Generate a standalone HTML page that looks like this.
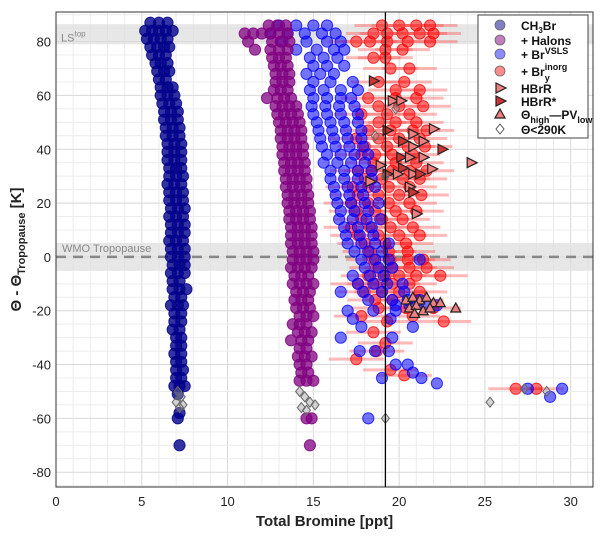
<!DOCTYPE html>
<html><head><meta charset="utf-8"><style>
body{margin:0;background:#fff;}
svg text{font-family:"Liberation Sans",Arial,sans-serif;}
</style></head><body>
<svg id="chart" width="600" height="535" viewBox="0 0 600 535" xmlns="http://www.w3.org/2000/svg">
<rect x="0" y="0" width="600" height="535" fill="#fff"/>
<g id="grid"></g>
<g id="bands"></g>
<g id="marks"></g>
<g id="axes"></g>
<g id="legend"></g>
</svg>
<script>
const xTicks=[0,5,10,15,20,25,30];
const yTicks=[80,60,40,20,0,-20,-40,-60,-80];
const ch3brRows=[[87,[5.5,6.0,6.5]],[84,[5.2,5.6,6.0,6.4,6.8]],[81,[5.3,5.7,6.1,6.5]],[78,[5.5,5.9,6.3,6.6]],[75,[5.6,6.0,6.4]],[72,[5.8,6.1,6.5]],[69,[5.9,6.3,6.6]],[66,[6.0,6.4]],[63,[6.1,6.5,6.8]],[60,[6.1,6.5,6.9]],[57,[6.2,6.6,7.0]],[54,[6.3,6.7,7.1]],[51,[6.3,6.7,7.1]],[48,[6.4,6.8,7.2]],[45,[6.4,6.8,7.2]],[42,[6.5,6.9,7.3]],[39,[6.5,6.9,7.3]],[36,[6.5,6.9,7.3]],[33,[6.6,7.0,7.3]],[30,[6.6,7.0,7.4]],[27,[6.5,6.9,7.3]],[24,[6.6,7.0,7.4]],[21,[6.6,7.0,7.4]],[18,[6.7,7.1,7.5]],[15,[6.6,7.0,7.4]],[12,[6.7,7.1,7.5]],[9,[6.7,7.1,7.5]],[6,[6.6,7.0,7.4]],[3,[6.7,7.1,7.5]],[0,[6.7,7.1,7.5]],[-3,[6.8,7.2,7.5]],[-6,[6.7,7.1,7.5]],[-9,[6.8,7.2]],[-12,[6.8,7.2,7.6]],[-15,[6.9,7.3]],[-18,[6.7,7.1,7.4]],[-21,[6.9,7.3]],[-24,[6.9,7.3]],[-27,[6.8,7.2]],[-30,[7.0,7.3]],[-33,[7.0,7.3]],[-36,[6.9,7.3]],[-39,[7.0,7.3]],[-42,[7.0,7.4]],[-45,[7.0,7.3]],[-48,[6.9,7.2,7.5]],[-51,[7.1]],[-58,[7.2]],[-60,[7.1]],[-70,[7.2]]];
const halonRows=[[86,[12.4,12.9,13.4]],[83,[11.0,11.5,12.0,12.5,13.0,13.5]],[80,[11.2,12.6,13.1,13.6]],[77,[11.6,12.5,13.0,13.5]],[74,[12.6,13.0,13.4]],[71,[12.7,13.1,13.5]],[68,[12.8,13.2,13.6]],[65,[12.8,13.2,13.6]],[62,[12.7,13.1,13.5]],[59,[12.3,12.9,13.3,13.7]],[56,[12.8,13.2,13.6,14.0]],[53,[12.9,13.3,13.7,14.1]],[50,[13.0,13.4,13.8,14.2]],[47,[13.1,13.5,13.9,14.3]],[44,[13.1,13.5,13.9,14.3]],[41,[13.2,13.6,14.0,14.4]],[38,[13.2,13.6,14.0,14.4]],[35,[13.3,13.7,14.1,14.5]],[32,[13.3,13.7,14.1,14.5]],[29,[13.4,13.8,14.2,14.6]],[26,[13.4,13.8,14.2,14.6]],[23,[13.5,13.9,14.3,14.7]],[20,[13.5,13.9,14.3,14.7]],[17,[13.6,14.0,14.4,14.8]],[14,[13.6,14.0,14.4,14.8]],[11,[13.7,14.1,14.5,14.9]],[8,[13.7,14.1,14.5,14.9]],[5,[13.7,14.1,14.5,14.9]],[2,[13.8,14.2,14.6,15.0]],[-1,[13.8,14.2,14.6,15.0]],[-4,[13.7,14.1,14.5,14.9]],[-7,[13.9,14.3,14.7]],[-10,[13.8,14.2,14.6,15.0]],[-13,[14.0,14.4,14.8]],[-16,[13.9,14.3,14.7]],[-19,[14.0,14.4,14.8]],[-22,[14.2,14.6,15.0]],[-25,[13.8,14.2,14.6]],[-28,[14.1,14.5,14.9]],[-31,[13.7,14.3,14.7]],[-34,[14.2,14.6]],[-37,[14.1,14.5,14.9]],[-40,[14.2,14.6]],[-43,[14.3,14.7]],[-46,[14.2,14.6,15.0]],[-60,[14.6,14.9]],[-70,[14.8]]];
const vslsRows=[[86,[13.0,14.0,15.0,15.8]],[83,[12.5,13.5,14.5,15.5,16.3]],[80,[13.2,14.6,15.8,16.6]],[77,[14.0,15.2,16.2,16.8]],[74,[14.8,15.6,16.4]],[71,[15.0,15.8,16.8]],[68,[14.6,15.4,16.2]],[65,[15.0,16.0,17.3]],[62,[14.8,15.6,16.6,17.6]],[59,[15.0,15.8,16.6,17.2]],[56,[14.9,15.7,16.5,17.4]],[53,[15.0,15.8,16.6,17.6]],[50,[15.2,16.0,16.8,17.6]],[47,[15.3,16.1,16.9,17.8]],[44,[15.4,16.2,17.0,17.8]],[41,[15.5,16.3,17.1,17.9]],[38,[15.8,16.6,17.4,18.2]],[35,[15.6,16.4,17.2,18.0]],[32,[16.0,16.8,17.6,18.4]],[29,[16.0,16.8,17.6,18.4]],[26,[16.2,17.0,17.8,18.6]],[23,[16.3,17.1,17.9]],[20,[16.4,17.2,18.0,18.8]],[17,[16.6,17.4,18.2]],[14,[16.5,17.3,18.1,18.9]],[11,[16.8,17.6,18.4]],[8,[16.9,17.7,18.5]],[5,[17.0,17.8,18.6,19.4]],[2,[17.4,18.2,19.0]],[-1,[17.8,18.6,19.4,21.2]],[-4,[18.0,18.8,19.6]],[-7,[17.3,18.3,19.1]],[-10,[17.6,18.5,19.3,20.2]],[-13,[16.6,17.9,19.0,20.3]],[-16,[18.2,19.6,20.5,21.2]],[-18,[19.8,20.6,21.6,22.2]],[-20,[17.0,18.5,19.8]],[-23,[17.3,19.5]],[-26,[17.8,20.8]],[-30,[16.6,19.6]],[-35,[17.7,18.6,19.4]],[-40,[19.8,20.5]],[-43,[20.8]],[-45,[19.0,21.3]],[-47,[22.2]],[-60,[18.2]],[-49,[27.5,29.5]],[-52,[28.8]]];
const inorgRows=[[86,[19.0,20.0,21.0,21.8]],[83,[18.5,19.3,20.2,21.2,22.0]],[80,[17.5,18.3,19.3,20.5,21.8]],[77,[19.2,20.2]],[74,[18.5,19.2]],[70,[19.5,20.6]],[65,[18.8,20.3]],[62,[19.8,21.2]],[59,[18.2,19.8,21.0]],[56,[18.8,20.0,21.4]],[53,[17.8,19.3,20.6]],[50,[18.8,19.8,21.0]],[47,[18.2,19.5,20.8,21.6]],[44,[17.5,18.8,20.0,21.2]],[41,[18.0,19.3,20.5,21.5]],[38,[17.8,18.6,19.6,20.8]],[35,[18.5,19.8,21.0]],[32,[17.6,18.4,19.6,20.6,21.6]],[29,[18.0,19.0,20.2,21.2]],[26,[17.3,18.2,19.4,20.6]],[23,[17.6,18.8,20.0,21.3]],[20,[17.2,18.2,19.4,20.6]],[17,[17.5,18.6,19.8,21.0]],[14,[17.8,19.0,20.2]],[11,[17.2,18.3,19.5,20.8]],[8,[17.6,18.8,20.0,21.2]],[5,[18.0,19.2,20.4]],[2,[18.3,19.4,20.5]],[-1,[18.5,19.5,20.5,21.4]],[-4,[18.7,19.6,20.6,21.6]],[-7,[18.2,19.2,20.0,21.0,22.4]],[-10,[17.6,18.6,19.6,20.6]],[-13,[18.0,19.0,20.0,21.2]],[-16,[18.6,19.6,21.0]],[-19,[18.8,20.4,22.0]],[-22,[17.8,20.8]],[-24,[19.3,22.6]],[-28,[18.5]],[-32,[19.2]],[-35,[18.7]],[-38,[17.5]],[-42,[19.5]],[-44,[20.3]],[-49,[26.8,28.0]]];
const hbrrX=[18.5,19.6,20.1,19.3,20.8,22.0,20.2,21.4,20.8,20.1,20.6,21.4,20.2,21.9,18.9,19.3,19.9,20.8,21.2,18.3,20.6,20.8,21.0,24.2,22.5];
const hbrrY=[65.4,58,58,47,45.7,47.6,43,43,41,37,37,37,33,32.7,34,30.8,30.8,30.8,30.8,28,26,24,16,35,40];
const pvX=[20.4,20.8,21.2,21.6,22.0,20.6,21.0,21.4,21.8,23.3,22.4,20.9];
const pvY=[-16,-15,-16,-15,-17,-19,-18,-20,-19,-19,-17,-21];
const dX=[7.1,7.3,7.0,7.4,7.2,14.2,14.5,14.8,14.3,15.1,14.6,19.2,25.3,27.3,28.6,18.6,19.2,19.8];
const dY=[-50,-52,-54,-55,-56,-50,-52,-54,-56,-55,-57,-60,-54,-49,-50,45,30,55];

const NS='http://www.w3.org/2000/svg';
const X0=56,X1=593,Y0=487,Y1=12,XMIN=0,XMAX=31.3,YMIN=-85.5,YMAX=91;
function sx(v){return X0+(v-XMIN)/(XMAX-XMIN)*(X1-X0);}
function sy(v){return Y0-(v-YMIN)/(YMAX-YMIN)*(Y0-Y1);}
function mk(tag,attrs,parent){const e=document.createElementNS(NS,tag);for(const k in attrs)e.setAttribute(k,attrs[k]);parent.appendChild(e);return e;}
const grid=document.getElementById('grid'),bands=document.getElementById('bands'),marks=document.getElementById('marks'),axes=document.getElementById('axes'),legend=document.getElementById('legend');

for(let v=1;v<=31;v++){const l=mk('line',{x1:sx(v),x2:sx(v),y1:Y1,y2:Y0,stroke:v%5===0?'#d8d8d8':'#ececec','stroke-width':1},grid);

}
for(let v=-85;v<=90;v+=5){const l=mk('line',{x1:X0,x2:X1,y1:sy(v),y2:sy(v),stroke:v%20===0?'#d8d8d8':'#ececec','stroke-width':1},grid);

}

let b=mk('rect',{x:X0,y:sy(86.5),width:X1-X0,height:sy(79)-sy(86.5),fill:'#ddd','fill-opacity':0.7},bands);


b=mk('rect',{x:X0,y:sy(5),width:X1-X0,height:sy(-5)-sy(5),fill:'#ddd','fill-opacity':0.7},bands);


let t=mk('text',{x:61,y:sy(81.5)+4,'font-size':11,fill:'#888'},bands);t.textContent='LS';


let ts=mk('tspan',{'font-size':8,dy:-5},t);ts.textContent='top';
t=mk('text',{x:62,y:sy(0)-5,'font-size':11,fill:'#888'},bands);t.textContent='WMO Tropopause';


let dl=mk('line',{x1:X0,x2:X1,y1:sy(0),y2:sy(0),stroke:'#888','stroke-width':2.5,'stroke-dasharray':'10,7'},bands);



function circles(rows,stroke,fill,name,err){
  const g=mk('g',{},marks);
  
  
  rows.forEach(r=>r[1].forEach(x=>{
    if(err){const e=mk('line',{x1:sx(x-1.6),x2:sx(x+1.6),y1:sy(r[0]),y2:sy(r[0]),stroke:'rgba(255,80,80,0.4)','stroke-width':3},g);
      
      }
    const c=mk('circle',{cx:sx(x),cy:sy(r[0]),r:5.6,fill:fill,stroke:stroke,'stroke-width':1},g);
    
    
  }));
}
circles(inorgRows,'rgba(255,0,0,0.75)','rgba(255,0,0,0.55)','bry-inorg',true);
circles(vslsRows,'rgba(0,0,255,0.75)','rgba(0,0,255,0.55)','br-vsls',false);
circles(halonRows,'rgba(128,0,128,0.8)','rgba(128,0,128,0.75)','halons',false);
circles(ch3brRows,'rgba(0,0,139,0.8)','rgba(0,0,139,0.8)','ch3br',false);

for(let i=0;i<hbrrX.length;i++){const x=sx(hbrrX[i]),y=sy(hbrrY[i]);
  const p=mk('polygon',{points:`${x-4},${y-5} ${x+6},${y} ${x-4},${y+5}`,fill:i%3===0?'#c33':'#f08080',stroke:'#222','stroke-width':1.2},marks);
  
  }
for(let i=0;i<pvX.length;i++){const x=sx(pvX[i]),y=sy(pvY[i]);
  const p=mk('polygon',{points:`${x-5},${y+4} ${x},${y-5} ${x+5},${y+4}`,fill:'#f08080',stroke:'#222','stroke-width':1.2},marks);
  
  }
for(let i=0;i<dX.length;i++){const x=sx(dX[i]),y=sy(dY[i]);
  const p=mk('polygon',{points:`${x},${y-5} ${x+4},${y} ${x},${y+5} ${x-4},${y}`,fill:'rgba(150,150,150,0.4)',stroke:'#666','stroke-width':1},marks);
  
  }

let vl=mk('line',{x1:sx(19.2),x2:sx(19.2),y1:Y1,y2:Y0,stroke:'#000','stroke-width':1.3},axes);


let fr=mk('rect',{x:X0,y:Y1,width:X1-X0,height:Y0-Y1,fill:'none',stroke:'#333','stroke-width':1},axes);


xTicks.forEach(v=>{const tx=mk('text',{x:sx(v),y:Y0+19,'font-size':13,'text-anchor':'middle',fill:'#222'},axes);tx.textContent=v;
  
  });
yTicks.forEach(v=>{const tx=mk('text',{x:X0-5,y:sy(v)+5,'font-size':13,'text-anchor':'end',fill:'#222'},axes);tx.textContent=v;
  
  });
t=mk('text',{x:(X0+X1)/2,y:526,'font-size':15,'font-weight':'bold','text-anchor':'middle',fill:'#222'},axes);t.textContent='Total Bromine [ppt]';


t=mk('text',{x:0,y:0,'font-size':15,'font-weight':'bold','text-anchor':'middle',fill:'#222',transform:`translate(21,${(Y0+Y1)/2}) rotate(-90)`},axes);
t.textContent='Θ - Θ';


ts=mk('tspan',{'font-size':11,dy:4},t);ts.textContent='Tropopause';
ts=mk('tspan',{dy:-4},t);ts.textContent=' [K]';

let lb=mk('rect',{x:478,y:15,width:110,height:123,fill:'#fff',stroke:'#444','stroke-width':1},legend);


const legEntries=[['circle','rgba(0,0,139,0.5)',['CH','3','Br'],25],['circle','rgba(128,0,128,0.5)',['+ Halons'],40],['circle','rgba(0,0,255,0.45)',['+ Br','VSLS'],54],['circle','rgba(255,0,0,0.45)',['+ Br','y','inorg'],71],['tri','#f08080',['HBrR'],88],['tri','#c33',['HBrR*'],101],['up','#f08080',['Θ','high','—PV','low'],114],['dia','#fff',['Θ<290K'],129]];
legEntries.forEach(e=>{const g=mk('g',{},legend);
  
  
  const x=500,y=e[3];
  if(e[0]==='circle')mk('circle',{cx:x,cy:y,r:5,fill:e[1],stroke:'#666','stroke-width':0.8},g);
  if(e[0]==='tri')mk('polygon',{points:`${x-4},${y-5} ${x+6},${y} ${x-4},${y+5}`,fill:e[1],stroke:'#222','stroke-width':1.2},g);
  if(e[0]==='up')mk('polygon',{points:`${x-5},${y+4} ${x},${y-5} ${x+5},${y+4}`,fill:e[1],stroke:'#222','stroke-width':1.2},g);
  if(e[0]==='dia')mk('polygon',{points:`${x},${y-5} ${x+4},${y} ${x},${y+5} ${x-4},${y}`,fill:e[1],stroke:'#555','stroke-width':1},g);
  const tx=mk('text',{x:521,y:y+5,'font-size':12,'font-weight':'bold',fill:'#111'},g);
  const p=e[2];
  if(p.length===1){tx.textContent=p[0];}
  else if(p[0]==='CH'){tx.textContent='CH';let a=mk('tspan',{'font-size':8,dy:3},tx);a.textContent='3';a=mk('tspan',{dy:-3},tx);a.textContent='Br';}
  else if(p.length===2){tx.textContent=p[0];let a=mk('tspan',{'font-size':9,dy:-5},tx);a.textContent=p[1];}
  else if(p[0]==='+ Br'){tx.textContent='+ Br';let a=mk('tspan',{'font-size':9,dy:5},tx);a.textContent='y';a=mk('tspan',{'font-size':9,dx:-5,dy:-11},tx);a.textContent='inorg';}
  else {tx.textContent='Θ';let a=mk('tspan',{'font-size':9,dy:4},tx);a.textContent='high';a=mk('tspan',{dy:-4},tx);a.textContent='—PV';a=mk('tspan',{'font-size':9,dy:4},tx);a.textContent='low';}
});
</script>
</body></html>
